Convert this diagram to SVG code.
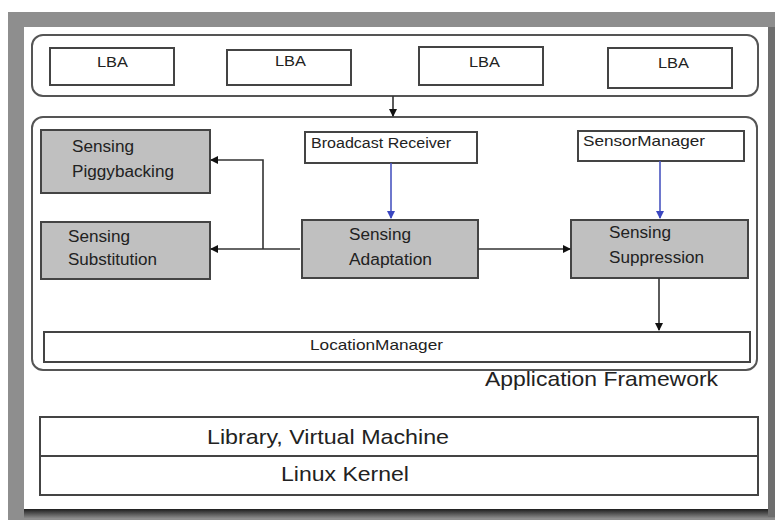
<svg xmlns="http://www.w3.org/2000/svg" width="775" height="520" viewBox="0 0 775 520">
<defs>
<style>
.box{fill:#fff;stroke:#444;stroke-width:2}
.gbox{fill:#c0c0c0;stroke:#444;stroke-width:2}
.cont{fill:none;stroke:#555;stroke-width:2}
.t{font-family:"Liberation Sans",Arial,sans-serif;fill:#222}
.s14{font-size:14px}
.s15{font-size:15px}
.s16{font-size:16px}
.s21{font-size:21px}
.ln{fill:none;stroke:#333;stroke-width:1.6}
.bl{fill:none;stroke:#4a56c0;stroke-width:1.6}
</style>
<marker id="ah" markerWidth="8" markerHeight="8" refX="7" refY="4" orient="auto" markerUnits="userSpaceOnUse">
<path d="M0,0 L8,4 L0,8 z" fill="#111"/>
</marker>
<marker id="ahb" markerWidth="8" markerHeight="8" refX="7" refY="4" orient="auto" markerUnits="userSpaceOnUse">
<path d="M0,0 L8,4 L0,8 z" fill="#3a46c0"/>
</marker>
<linearGradient id="shb" x1="0" y1="0" x2="0" y2="1">
<stop offset="0" stop-color="#111"/>
<stop offset="1" stop-color="#888"/>
</linearGradient>
</defs>
<rect x="0" y="0" width="775" height="520" fill="#fff"/>
<rect x="8" y="12" width="767" height="508" fill="#8e8e8e"/>
<rect x="24" y="508" width="751" height="10" fill="url(#shb)"/>
<rect x="768" y="27" width="7" height="490" fill="#6e6e6e"/>
<rect x="24" y="27" width="744" height="482" fill="#fff"/>

<g id="lba-container">
<rect class="cont" x="32" y="35" width="726" height="61" rx="11"/>
</g>
<g id="lba1"><rect class="box" x="50" y="48" width="124" height="37"/><text class="t s14" x="97" y="67" textLength="31" lengthAdjust="spacingAndGlyphs">LBA</text></g>
<g id="lba2"><rect class="box" x="227" y="50" width="124" height="35"/><text class="t s14" x="275" y="66" textLength="31" lengthAdjust="spacingAndGlyphs">LBA</text></g>
<g id="lba3"><rect class="box" x="419" y="47" width="124" height="38"/><text class="t s14" x="469" y="67" textLength="31" lengthAdjust="spacingAndGlyphs">LBA</text></g>
<g id="lba4"><rect class="box" x="608" y="48" width="124" height="40"/><text class="t s14" x="658" y="68" textLength="31" lengthAdjust="spacingAndGlyphs">LBA</text></g>

<g id="app-container">
<rect class="cont" x="32" y="117" width="725" height="253" rx="11"/>
</g>
<g id="piggybacking"><rect class="gbox" x="41" y="130" width="169" height="63"/>
<text class="t s16" x="72" y="152" textLength="62" lengthAdjust="spacingAndGlyphs">Sensing</text><text class="t s16" x="72" y="177" textLength="102" lengthAdjust="spacingAndGlyphs">Piggybacking</text></g>
<g id="substitution"><rect class="gbox" x="41" y="222" width="169" height="57"/>
<text class="t s16" x="68" y="242" textLength="62" lengthAdjust="spacingAndGlyphs">Sensing</text><text class="t s16" x="68" y="265" textLength="89" lengthAdjust="spacingAndGlyphs">Substitution</text></g>
<g id="broadcast"><rect class="box" x="305" y="132" width="172" height="31"/>
<text class="t s14" x="311" y="148" textLength="140" lengthAdjust="spacingAndGlyphs">Broadcast Receiver</text></g>
<g id="sensormanager"><rect class="box" x="578" y="131" width="166" height="30"/>
<text class="t s15" x="583" y="146" textLength="122" lengthAdjust="spacingAndGlyphs">SensorManager</text></g>
<g id="adaptation"><rect class="gbox" x="302" y="220" width="176" height="58"/>
<text class="t s16" x="349" y="240" textLength="62" lengthAdjust="spacingAndGlyphs">Sensing</text><text class="t s16" x="349" y="265" textLength="83" lengthAdjust="spacingAndGlyphs">Adaptation</text></g>
<g id="suppression"><rect class="gbox" x="571" y="220" width="177" height="58"/>
<text class="t s16" x="609" y="238" textLength="62" lengthAdjust="spacingAndGlyphs">Sensing</text><text class="t s16" x="609" y="263" textLength="95" lengthAdjust="spacingAndGlyphs">Suppression</text></g>
<g id="locationmanager"><rect class="box" x="44" y="332" width="706" height="30"/>
<text class="t s15" x="310" y="350" textLength="133" lengthAdjust="spacingAndGlyphs">LocationManager</text></g>
<g id="app-label"><text class="t s21" x="485" y="386" textLength="233" lengthAdjust="spacingAndGlyphs">Application Framework</text></g>
<g id="library"><rect class="box" x="40" y="417" width="718" height="39"/>
<text class="t s21" x="207" y="444" textLength="242" lengthAdjust="spacingAndGlyphs">Library, Virtual Machine</text></g>
<g id="kernel"><rect class="box" x="40" y="456" width="718" height="39"/>
<text class="t s21" x="281" y="481" textLength="128" lengthAdjust="spacingAndGlyphs">Linux Kernel</text></g>

<g id="connectors">
<path class="ln" d="M393,96 L393,116" marker-end="url(#ah)"/>
<path class="ln" d="M300,249 L211,249" marker-end="url(#ah)"/>
<path class="ln" d="M263,249 L263,160 L211,160" marker-end="url(#ah)"/>
<path class="bl" d="M391,163 L391,218" marker-end="url(#ahb)"/>
<path class="bl" d="M660,161 L660,218" marker-end="url(#ahb)"/>
<path class="ln" d="M478,249 L570,249" marker-end="url(#ah)"/>
<path class="ln" d="M659,278 L659,330" marker-end="url(#ah)"/>
</g>
</svg>
